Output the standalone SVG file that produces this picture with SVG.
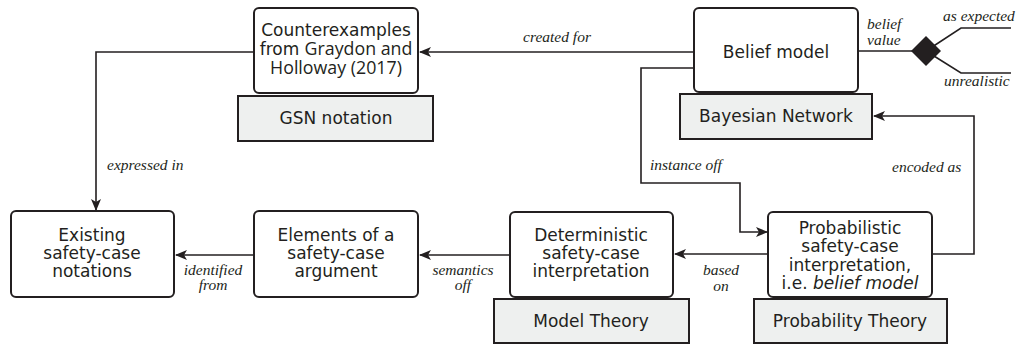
<svg xmlns="http://www.w3.org/2000/svg" width="1027" height="346" viewBox="0 0 1027 346">
  <style>
    .node { fill: #ffffff; stroke: #231f20; stroke-width: 2; }
    .base { fill: #eef0ef; stroke: #231f20; stroke-width: 2; }
    .t { font-family: "DejaVu Sans", Verdana, sans-serif; font-size: 17px; fill: #231f20; text-anchor: middle; }
    .alt { font-family: "Open Sans", "Noto Sans", sans-serif; font-size: 17.8px; }
    .lbl { font-family: "Liberation Serif", "Times New Roman", serif; font-style: italic; font-size: 15.5px; fill: #231f20; }
    .mid { text-anchor: middle; }
    .edge { fill: none; stroke: #231f20; stroke-width: 1.6; }
  </style>
  <defs>
    <marker id="arrow" viewBox="0 0 12 10" refX="11" refY="5" markerWidth="12" markerHeight="10" markerUnits="userSpaceOnUse" orient="auto">
      <path d="M0,0 L12,5 L0,10 L3,5 Z" fill="#231f20"/>
    </marker>
  </defs>

  <rect width="1027" height="346" fill="#ffffff"/>

  <!-- connectors -->
  <g id="connectors">
    <path class="edge" d="M694,52 H420" marker-end="url(#arrow)"/>
    <text class="lbl mid" x="557" y="42">created for</text>

    <path class="edge" d="M254,52 H96 V210" marker-end="url(#arrow)"/>
    <text class="lbl" x="107" y="170">expressed in</text>

    <path class="edge" d="M694,68 H641 V183 H740 V232 H767" marker-end="url(#arrow)"/>
    <text class="lbl" x="650" y="170">instance off</text>

    <path class="edge" d="M932,254 H974 V116 H874" marker-end="url(#arrow)"/>
    <text class="lbl" x="892" y="172">encoded as</text>

    <path class="edge" d="M768,254 H675" marker-end="url(#arrow)"/>
    <text class="lbl mid" x="721" y="275">based</text>
    <text class="lbl mid" x="721" y="291">on</text>

    <path class="edge" d="M510,255 H420" marker-end="url(#arrow)"/>
    <text class="lbl mid" x="463" y="275">semantics</text>
    <text class="lbl mid" x="463" y="290">off</text>

    <path class="edge" d="M254,255 H176" marker-end="url(#arrow)"/>
    <text class="lbl mid" x="213" y="275">identified</text>
    <text class="lbl mid" x="213" y="290">from</text>

    <!-- belief value decision -->
    <path class="edge" d="M858,51 H912"/>
    <path class="edge" d="M926,51 L961,28 H1011"/>
    <path class="edge" d="M926,51 L961,73 H1011"/>
    <polygon points="911,51 926,36 941,51 926,66" fill="#231f20"/>
    <text class="lbl" x="867" y="29">belief</text>
    <text class="lbl" x="867" y="45">value</text>
    <text class="lbl" x="943" y="21">as expected</text>
    <text class="lbl" x="944" y="86">unrealistic</text>
  </g>

  <!-- nodes -->
  <g id="counterexamples">
    <rect class="node" x="254" y="8" width="164" height="85" rx="5"/>
    <text class="t" x="336" y="36">Counterexamples</text>
    <text class="t" x="336" y="55">from <tspan class="alt">Graydon and</tspan></text>
    <text class="t alt" x="336" y="74">Holloway (2017)</text>
  </g>
  <g id="gsn-notation">
    <rect class="base" x="238" y="96" width="195" height="45"/>
    <text class="t" x="336" y="124">GSN notation</text>
  </g>

  <g id="belief-model">
    <rect class="node" x="694" y="8" width="164" height="84" rx="5"/>
    <text class="t" x="776" y="58">Belief model</text>
  </g>
  <g id="bayesian-network">
    <rect class="base" x="680" y="94" width="192" height="45"/>
    <text class="t" x="776" y="122">Bayesian Network</text>
  </g>

  <g id="existing-notations">
    <rect class="node" x="11" y="211" width="163" height="86" rx="5"/>
    <text class="t" x="92" y="241">Existing</text>
    <text class="t" x="92" y="259">safety-case</text>
    <text class="t" x="92" y="277">notations</text>
  </g>

  <g id="argument-elements">
    <rect class="node" x="254" y="211" width="164" height="86" rx="5"/>
    <text class="t" x="336" y="241">Elements of a</text>
    <text class="t" x="336" y="259">safety-case</text>
    <text class="t" x="336" y="277">argument</text>
  </g>

  <g id="deterministic-interpretation">
    <rect class="node" x="510" y="212" width="163" height="85" rx="5"/>
    <text class="t" x="591" y="241">Deterministic</text>
    <text class="t" x="591" y="259">safety-case</text>
    <text class="t" x="591" y="277">interpretation</text>
  </g>
  <g id="model-theory">
    <rect class="base" x="494" y="299" width="195" height="44"/>
    <text class="t" x="591" y="327">Model Theory</text>
  </g>

  <g id="probabilistic-interpretation">
    <rect class="node" x="768" y="212" width="164" height="85" rx="5"/>
    <text class="t" x="850" y="234">Probabilistic</text>
    <text class="t" x="850" y="252">safety-case</text>
    <text class="t" x="850" y="271">interpretation,</text>
    <text class="t" x="850" y="289">i.e. <tspan font-style="italic">belief model</tspan></text>
  </g>
  <g id="probability-theory">
    <rect class="base" x="754" y="299" width="193" height="44"/>
    <text class="t" x="850" y="327">Probability Theory</text>
  </g>
</svg>
